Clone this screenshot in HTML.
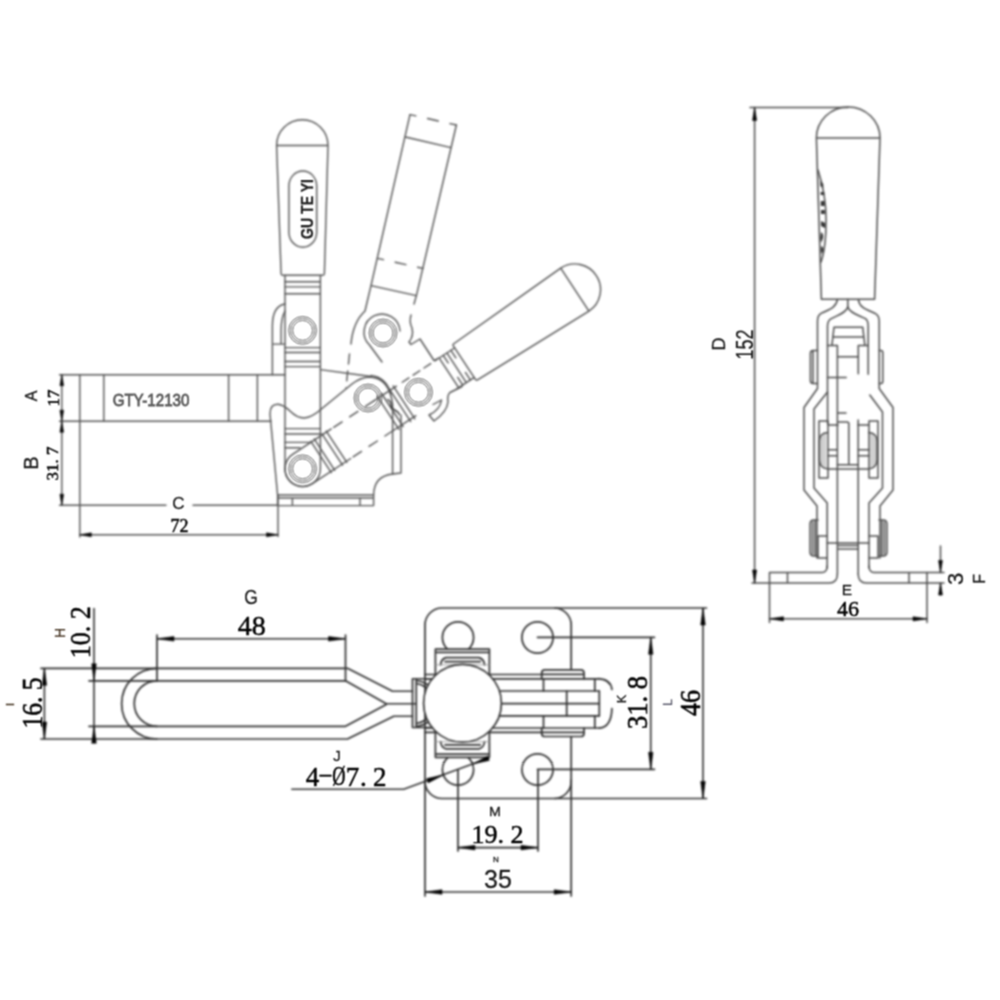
<!DOCTYPE html>
<html><head><meta charset="utf-8"><title>GTY-12130 toggle clamp drawing</title>
<style>
html,body{margin:0;padding:0;background:#fff;}
body{width:1000px;height:1000px;overflow:hidden;}
svg{display:block;}
.a{fill:none;stroke:#535353;stroke-width:1.4;stroke-linecap:round;stroke-linejoin:round;}
.b{fill:none;stroke:#4c4c4c;stroke-width:1.5;stroke-linecap:round;stroke-linejoin:round;}
.c{fill:none;stroke:#303030;stroke-width:1.7;stroke-linecap:round;stroke-linejoin:round;}
.d{fill:none;stroke:#303030;stroke-width:1.6;}
.r{fill:none;stroke:#6a6a6a;stroke-width:0.95;}
.h{fill:none;stroke:#9a9a9a;stroke-width:0.9;}
.w{fill:#fff;}
.ar{fill:#000;stroke:#000;stroke-width:0.5;stroke-linejoin:round;}
.s{font-family:"Liberation Sans",sans-serif;fill:#1a1a1a;stroke:#1a1a1a;stroke-width:0.3;}
.f{font-family:"Liberation Serif",serif;fill:#000;stroke:#000;stroke-width:0.5;}
.g{font-family:"Liberation Sans",sans-serif;fill:#5a5a5a;}
</style></head>
<body>
<svg width="1000" height="1000" viewBox="0 0 1000 1000">
<defs><filter id="bl" x="0" y="0" width="1000" height="1000" filterUnits="userSpaceOnUse" color-interpolation-filters="sRGB"><feConvolveMatrix order="5" kernelMatrix="1 4 6 4 1 4 16 24 16 4 6 24 36 24 6 4 16 24 16 4 1 4 6 4 1" divisor="256" edgeMode="duplicate" preserveAlpha="true"/></filter>
<filter id="bt" x="0" y="0" width="1000" height="1000" filterUnits="userSpaceOnUse" color-interpolation-filters="sRGB"><feConvolveMatrix order="3" kernelMatrix="1 2 1 2 4 2 1 2 1" divisor="16" edgeMode="duplicate" preserveAlpha="false"/></filter></defs>
<g filter="url(#bl)">
<rect width="1000" height="1000" fill="#fff"/>
<g id="viewA">
<path class="a" d="M59.5,374.7H285 M59.5,421.2H271 M59.5,505.2H166 M193,505.2H278 M79.8,374.7V537 M103.8,374.7V421.2 M228.6,374.7V421.2 M257.4,374.7V421.2 M278,495V536.5"/>
<path class="a" d="M61.8,374.7V505.2 M79.8,534.8H278"/>
<polygon class="ar" points="61.8,374.7 63.7,385.7 59.9,385.7"/>
<polygon class="ar" points="61.8,421.2 59.9,410.2 63.7,410.2"/>
<polygon class="ar" points="61.8,421.2 63.7,432.2 59.9,432.2"/>
<polygon class="ar" points="61.8,505.2 59.9,494.2 63.7,494.2"/>
<polygon class="ar" points="79.8,534.8 91.3,532.8 91.3,536.8"/>
<polygon class="ar" points="278.0,534.8 266.5,536.8 266.5,532.8"/>
<path class="a" d="M276.6,145.5 A25.7,25.7 0 0 1 328,145.5 L324.4,273.8 Q324.3,275.3 322.8,275.3 H282.6 Q281.2,275.3 281.1,273.8 Z M276.6,145.5H328"/>
<rect class="a" x="288.9" y="171" width="27.8" height="76.2" rx="13.9" ry="15"/>
<path class="a" d="M285,275.5V468.8 M320.4,275.5V468.8"/>
<path class="a" d="M285,281.8H320.4 M285,286.9H320.4 M285,293.8H320.4"/>
<path class="a" d="M285,347.6H320.4 M285,352.5H320.4 M285,361.5H320.4 M285,366.6H320.4"/>
<path class="a" d="M285,428.6H320.4 M285,434H320.4 M285,442.4H310 M285,447.8H300"/>
<path class="a" d="M285,304 Q272.4,306 272.4,326 V374.7 M285,311 Q281.1,318 281.1,330 V344.1 M272.4,344.1H285"/>
<path class="a" d="M277.6,495 L270,414 Q270,404 278,404.2 Q284,405 290,411 Q297,418 304,418 Q312,417.5 322,408.5 L352,384 Q360,377.5 370,377 Q389,378 392.6,404 V474 L401,473 V415"/>
<path class="a" d="M392.6,474 Q374,476 373.6,495"/>
<path class="a" d="M277.6,495H373.6 M277.6,498H373.6 M277.6,505.6H373.6 M277.6,495V505.6 M373.6,495V505.6 M292.4,498V505.6 M360,498V505.6"/>
<path class="a" d="M320.4,369.6 L371,376.5"/>
<path class="a" d="M371,375.5 Q386,377 391,394"/>
<path class="a" d="M285,468.8 A17.7,17.7 0 0 0 320.4,468.8"/>
<g transform="rotate(56.7 302.6 468.8)">
<path class="a" d="M276.6,142.9 A25.7,25.7 0 0 1 328,142.9 L324.4,273.8 Q324.3,275.3 322.8,275.3 H282.6 Q281.2,275.3 281.1,273.8 Z M276.6,142.9H328"/>
<path class="a" d="M285,293.8H320.4 M285,284.6H320.4 M285,275.5V293.8 M320.4,275.5V296"/>
<path class="a" stroke-dasharray="9 17.4" d="M285,289H320.4 M285,279.8H320.4"/>
<path class="a" d="M285,423 V468.8 A17.7,17.7 0 0 0 320.4,468.8 V423"/>
<path class="a" d="M284,428.3H321.5 M284,433.4H321.5 M284,442.7H321.5 M284,446.9H321.5"/>
<path class="a" stroke-dasharray="10 9" d="M285,420V372 M320.4,420V372"/>
<path class="a" d="M283,347.6H322.5 M283,352.5H322.5 M283,361.5H322.5 M283,366.6H322.5"/>
<path class="a" d="M285,372V345 M320.4,372V345"/>
<path class="a" stroke-dasharray="8 5" d="M285,338V296"/>
</g>
<path class="a" d="M462,386.5 L450,392.5 Q447,395 448,402 Q447,412 434,421 L429,415 Q440,410 441.5,400 L433,404.5"/>
<path class="a" d="M410,114.6 L371,285.6 L365,311 Q353,322 351,344 M456.4,125 L416.4,295.6 M405.4,137 L451,147.6 M371,285.6 L416.4,295.6"/>
<path class="a" stroke-dasharray="6 12 11 12 7" d="M410,114.6 L456.4,125 M377.6,258.4 L423,268.4"/>
<path class="a" stroke-dasharray="10 7" d="M349.5,354 L346,388 M416.4,295.6 L414,304"/>
<path class="a" d="M411,315 Q409,322 412,328 Q414,336 409,342 L411,344.5 L420,339 L434,360.5 L438.5,358"/>
<path class="a" style="stroke:#333" d="M388,399.5 q3.5,2.5 3,6 q0.5,3 4.5,5 q3,1.5 4,4"/>
<path class="a" d="M400,331 A18,18 0 1 0 369.5,345 L382,362"/>
</g>
<g id="viewB">
<path class="b" d="M816.4,138 A31.8,31 0 0 1 880,138 L874.6,299.2 H821.4 Z M816.4,138H880"/>
<path class="b" d="M818,170 Q826.5,196 826,222 Q826,248 821,262"/>
<path d="M820.3,181 l3,3 v4 l-3,-2z M820.6,192 h3.6 v3 h-3.6z M820.8,201 h3.8 v5 h-3.8z M821,210 h3.8 v4 h-3.8z M821,221 l4,2 v5 l-4,-2z M821,232 q4.5,3 0,11 q-1.5,-5 0,-11z M821.2,246 q4,2 0.6,8 q-1.6,-3 -0.6,-8z" fill="#333"/>
<path class="b" d="M847.8,299.2V307"/>
<path class="b" d="M837.4,299.6 C836,308 829,309.5 821.4,313.2 Q817.5,315.5 817.5,321 V388.5 L804,407.5 V490 L817,506 V558"/>
<path class="b" d="M858.3,299.6 C859.6,308 866.7,309.5 874.7,313.2 Q879.2,315.5 879.2,321 V388.5 L893,407.5 V490 L880,506 V558"/>
<path class="b" d="M847.8,307 C846,313 838,315 831.3,318.7 Q827.5,320.8 827.5,326 V392 L814,409 V488 L827.2,503 V568"/>
<path class="b" d="M847.8,307 C849.6,313 858,315 865.4,318.7 Q868.2,320.8 868.2,326 V374.2 M869.8,395 L882.5,412 V488 L869,503 V568"/>
<path class="b" d="M831.9,345.6 L834,327.2 H862.7 L864.9,345.6 M832.6,337.1H863.6 M827.5,345.6H837.4 M858.3,345.6H868.2 M837.4,345.6V574 M858.3,345.6V373.7 M837.4,356.8H858.3 M827.5,377.5H846.2 M837.4,413H846 M827.6,392V424"/>
<path class="b" d="M858.2,420 V574"/>
<path class="b" d="M817.5,350.5 H813 Q810.4,350.5 810.4,353.5 V380.5 Q810.4,383.5 813,383.5 H817.5 M813,351.5V382.5"/>
<path class="b" d="M879.2,350.5 H881 Q882.8,350.5 882.8,353 V381 Q882.8,383.5 881,383.5 H879.2"/>
<path class="b" d="M819,421 H828 M869,421 H878 M819,421 V478 H828 M878,421 V478 H869 M828,421V478 M869,421V478 M828,425H838 M858,425H869"/>
<path class="b" d="M827.8,432.4 Q819.4,433 819.4,441 V460 Q819.4,468 828.4,469 H868 Q877,468 877,460 V441 Q877,433 868.6,432.4"/>
<path class="h" d="M821.3,437V464 M823.2,435V466 M825.2,434V467.5 M875.1,437V464 M873.2,435V466 M871.2,434V467.5"/>
<path class="b" d="M848.8,423V464.8 M838,422H847 Q848.8,422 848.8,424 M837.4,464.8H858.2 M828,449.8H837.4 M828,455.8H837.4 M858.2,449.8H869 M858.2,455.8H869"/>
<path class="b" d="M818,520 H814 Q810,520 810,524 V552 Q810,556 814,556 H818 M812.5,522V554 M815,521V555"/>
<path class="b" d="M879,520 H883 Q887,520 887,524 V552 Q887,556 883,556 H879 M884.5,522V554 M882,521V555"/>
<path class="b" d="M827,536 H818 V558 H827 M869,536 H878 V558 H869 M827.2,543H869 M838,545.5H858 M838,549H858"/>
<path class="b" d="M827.2,566 Q827,572.5 822,572.5 H769.5 V583 H829 Q837.4,583 837.4,574 M787.5,572.5V583"/>
<path class="b" d="M869,566 Q869.2,572.5 874,572.5 H927 V583 H866.6 Q858.2,583 858.2,574 M909,572.5V583"/>
<path class="b" d="M750,107.5H848 M752,583H769.5 M769.5,583V622.5 M927,583V622.5 M927,572.5H944 M927,583H944"/>
<path class="b" d="M754.6,107.5V583 M769.5,618.8H927 M940.5,546V572.5 M940.5,583V595"/>
<polygon class="ar" points="754.6,107.5 756.7,120.5 752.5,120.5"/>
<polygon class="ar" points="754.6,583.0 752.5,570.0 756.7,570.0"/>
<polygon class="ar" points="769.5,618.8 783.5,616.7 783.5,620.9"/>
<polygon class="ar" points="927.0,618.8 913.0,620.9 913.0,616.7"/>
<polygon class="ar" points="940.5,572.5 938.5,560.5 942.5,560.5"/>
<polygon class="ar" points="940.5,583.0 942.5,595.0 938.5,595.0"/>
</g>
<g id="viewC">
<rect class="c" x="425" y="608" width="146.2" height="190.5" rx="17" ry="17"/>
<circle class="c" cx="458" cy="637.5" r="15.6"/>
<circle class="c" cx="458" cy="769.5" r="15.6"/>
<circle class="c" cx="537.5" cy="637.5" r="15.6"/>
<circle class="c" cx="537.5" cy="769.5" r="15.6"/>
<path class="c" d="M41,668.3 H347.5 L392.5,691.25 H412.5 M89,680.8 H345.5 L386.25,703.75 H416 M89,726.3 H345.5 L386.25,704.5 M41,739 H347.5 L393.75,716.25 H412.5"/>
<path class="c" d="M157,668.3 A35.35,35.35 0 0 0 157,739 M157,680.8 A22.75,22.75 0 0 0 157,726.3"/>
<path class="c" d="M412.5,678.75 H430 M412.5,678.75 V727.5 H430 M416.25,678.75V727.5 M416.5,680.5 Q422,681 427.5,684.5 M416.5,683.5 Q421,684 426,687.5 M416.5,726.5 Q422,726 427.5,722.5 M416.5,723.5 Q421,723 426,719.5"/>
<path class="c" style="fill:#fff" d="M435.4,676 V649.2 H489.4 V676"/>
<path class="c" d="M436.4,652.4H488.4 M440.6,665 Q441,659 446,657.6 H479 Q484,659 484.6,665 M445,661.6H480.2"/>
<path class="h" d="M435.4,664.8H489.4"/>
<path class="c" style="fill:#fff" d="M435.4,730.5 V757.3 H489.4 V730.5"/>
<path class="c" d="M436.4,754.1H488.4 M440.6,741.5 Q441,747.5 446,748.9 H479 Q484,747.5 484.6,741.5 M445,744.9H480.2"/>
<path class="h" d="M435.4,741.7H489.4"/>
<rect x="541.7" y="670" width="58" height="66.5" fill="#fff"/>
<path class="c" d="M425,674.5H542 M425,678.9H598.4 M490,691H599.3 M490,703.6H599.3 M490,715.8H599.3 M425,728H599.3 M425,732.4H542"/>
<circle class="c" cx="462.5" cy="703.25" r="38.9" style="fill:#fff"/>
<path class="c" d="M541.7,678.9 V673 Q541.7,669.9 545,669.9 H580.7 Q584,669.9 584,673 V678.9"/>
<path class="c" d="M542,674.4H583.5"/>
<path class="c" d="M541.7,728 V733.4 Q541.7,736.5 545,736.5 H580.7 Q584,736.5 584,733.4 V728"/>
<path class="c" d="M542,732.4H583.5"/>
<path class="c" d="M543.5,678.9V691 M543.5,715.8V728 M594.8,678.9V691 M594.8,715.8V728 M599.3,691V715.8 M566.7,691V715.8 M598.4,678.6 Q611,679.5 611.9,689.5 M611.9,708.5 Q611.5,727 599.3,728.2"/>
<path class="c" d="M555,608H706.5 M537.5,637.3H654.5 M537.5,769.3H654.5 M555,798.5H706.5 M458,769.5V851 M538,769.5V851 M425,780V896 M571.2,780V896 M157,635V680.8 M345.5,635V680.8"/>
<path class="d" d="M650.75,637.3V769.3 M703,608V798.4 M458,847.6H538 M425,892H571.2 M157,638.8H345.5 M94,608V743 M44.4,668.3V739"/>
<polygon class="ar" points="650.8,637.3 653.0,654.3 648.5,654.3"/>
<polygon class="ar" points="650.8,769.3 648.5,752.3 653.0,752.3"/>
<polygon class="ar" points="703.0,608.0 705.3,625.0 700.7,625.0"/>
<polygon class="ar" points="703.0,798.4 700.7,781.4 705.3,781.4"/>
<polygon class="ar" points="458.0,847.6 475.0,845.3 475.0,849.9"/>
<polygon class="ar" points="538.0,847.6 521.0,849.9 521.0,845.3"/>
<polygon class="ar" points="425.0,892.0 442.0,889.7 442.0,894.3"/>
<polygon class="ar" points="571.2,892.0 554.2,894.3 554.2,889.7"/>
<polygon class="ar" points="157.0,638.8 174.0,636.5 174.0,641.1"/>
<polygon class="ar" points="345.5,638.8 328.5,641.1 328.5,636.5"/>
<polygon class="ar" points="94.0,680.8 91.7,663.8 96.3,663.8"/>
<polygon class="ar" points="94.0,726.3 96.3,743.3 91.7,743.3"/>
<polygon class="ar" points="44.4,668.3 46.7,685.3 42.1,685.3"/>
<polygon class="ar" points="44.4,739.0 42.1,722.0 46.7,722.0"/>
<path class="d" d="M291.25,789.25 H403.75 L488.75,758"/>
<polygon class="ar" points="443.4,774.9 428.2,782.9 426.7,778.6"/>
<polygon class="ar" points="472.6,764.1 487.8,756.1 489.3,760.4"/>
</g>
</g>
<g filter="url(#bt)">
<text class="s" transform="translate(307,209) rotate(-90) scale(0.83,1)" font-size="17" text-anchor="middle" dominant-baseline="central" font-weight="bold" style="fill:#222;stroke:#222;stroke-width:0.3">GU TE YI</text>
<circle class="r" cx="302.6" cy="330.4" r="14.0"/><circle class="r" cx="302.6" cy="330.4" r="12.0"/><circle class="r" cx="302.6" cy="330.4" r="9.9"/>
<circle class="r" cx="368" cy="398" r="14.0"/><circle class="r" cx="368" cy="398" r="12.0"/><circle class="r" cx="368" cy="398" r="9.9"/>
<circle class="r" cx="302.6" cy="468.8" r="14.0"/><circle class="r" cx="302.6" cy="468.8" r="12.0"/><circle class="r" cx="302.6" cy="468.8" r="9.9"/>
<circle class="r" cx="418.5" cy="392.3" r="14.0"/><circle class="r" cx="418.5" cy="392.3" r="12.0"/><circle class="r" cx="418.5" cy="392.3" r="9.9"/>
<circle class="r" cx="383" cy="333" r="14.0"/><circle class="r" cx="383" cy="333" r="12.0"/><circle class="r" cx="383" cy="333" r="9.9"/>
<text class="g" transform="translate(151,400) scale(0.89,1)" font-size="17" text-anchor="middle" dominant-baseline="central" style="stroke:#5a5a5a;stroke-width:0.8">GTY-12130</text>
<text class="s" transform="translate(31.8,396) rotate(-90)" font-size="16" text-anchor="middle" dominant-baseline="central" >A</text>
<text class="f" transform="translate(53,398) rotate(-90)" font-size="17" text-anchor="middle" dominant-baseline="central" >17</text>
<text class="s" transform="translate(31,463) rotate(-90)" font-size="20" text-anchor="middle" dominant-baseline="central" >B</text>
<text class="f" transform="translate(52.8,463.5) rotate(-90)" font-size="17" text-anchor="middle" dominant-baseline="central" >31. 7</text>
<text class="s" transform="translate(178.5,503.5)" font-size="17" text-anchor="middle" dominant-baseline="central" >C</text>
<text class="f" transform="translate(179.4,526.4)" font-size="18" text-anchor="middle" dominant-baseline="central" >72</text>
<text class="s" transform="translate(718.8,344) rotate(-90)" font-size="18" text-anchor="middle" dominant-baseline="central" >D</text>
<text class="s" transform="translate(744.4,344.6) rotate(-90) scale(0.78,1)" font-size="23" text-anchor="middle" dominant-baseline="central" >152</text>
<text class="s" transform="translate(847,589.6)" font-size="15.5" text-anchor="middle" dominant-baseline="central" >E</text>
<text class="f" transform="translate(848,608.8)" font-size="22" text-anchor="middle" dominant-baseline="central" >46</text>
<text class="s" transform="translate(955.5,578.8) rotate(-90)" font-size="22" text-anchor="middle" dominant-baseline="central" >3</text>
<text class="s" transform="translate(979.3,578.8) rotate(-90)" font-size="16" text-anchor="middle" dominant-baseline="central" >F</text>
<text class="s" transform="translate(251,597.2) scale(0.85,1)" font-size="20.5" text-anchor="middle" dominant-baseline="central" >G</text>
<text class="f" transform="translate(251.7,625.6)" font-size="28" text-anchor="middle" dominant-baseline="central" >48</text>
<text class="s" transform="translate(59.6,633) rotate(-90)" font-size="14" text-anchor="middle" dominant-baseline="central" style="fill:#432;stroke:#432">H</text>
<text class="f" transform="translate(80.4,632.3) rotate(-90) scale(1,1.12)" font-size="26" text-anchor="middle" dominant-baseline="central" >10. 2</text>
<text class="s" transform="translate(10,704.4) rotate(-90)" font-size="11" text-anchor="middle" dominant-baseline="central" style="fill:#432;stroke:#432">I</text>
<text class="f" transform="translate(32.2,703) rotate(-90) scale(1,1.12)" font-size="25.5" text-anchor="middle" dominant-baseline="central" >16. 5</text>
<text class="s" transform="translate(337,755)" font-size="15" text-anchor="middle" dominant-baseline="central" >J</text>
<text class="f" transform="translate(312.4,776) scale(1,1.05)" font-size="27" text-anchor="middle" dominant-baseline="central" >4</text>
<text class="f" transform="translate(325.6,772.6) scale(0.85,1.05)" font-size="27" text-anchor="middle" dominant-baseline="central" >–</text>
<text class="f" transform="translate(339,776) scale(0.68,1.05)" font-size="27" text-anchor="middle" dominant-baseline="central" >Ø</text>
<text class="f" transform="translate(352.6,776) scale(1,1.05)" font-size="27" text-anchor="middle" dominant-baseline="central" >7</text>
<text class="f" transform="translate(363.4,776) scale(1,1.05)" font-size="27" text-anchor="middle" dominant-baseline="central" >.</text>
<text class="f" transform="translate(379.8,776) scale(1,1.05)" font-size="27" text-anchor="middle" dominant-baseline="central" >2</text>
<text class="s" transform="translate(621.3,698.8) rotate(-90)" font-size="13" text-anchor="middle" dominant-baseline="central" >K</text>
<text class="f" transform="translate(636.8,702.5) rotate(-90) scale(1,1.14)" font-size="26.5" text-anchor="middle" dominant-baseline="central" >31. 8</text>
<text class="s" transform="translate(668,702.5) rotate(-90)" font-size="12.5" text-anchor="middle" dominant-baseline="central" style="fill:#556;stroke:#556">L</text>
<text class="f" transform="translate(689.5,703) rotate(-90) scale(1,1.12)" font-size="26" text-anchor="middle" dominant-baseline="central" >46</text>
<text class="s" transform="translate(495,811.4) scale(1.1,1)" font-size="13" text-anchor="middle" dominant-baseline="central" >M</text>
<text class="f" transform="translate(497.5,834.5)" font-size="26" text-anchor="middle" dominant-baseline="central" >19. 2</text>
<text class="s" transform="translate(496,859.4)" font-size="8" text-anchor="middle" dominant-baseline="central" >N</text>
<text class="s" transform="translate(498,878.5)" font-size="25" text-anchor="middle" dominant-baseline="central" >35</text>
</g>
</svg>
</body></html>
